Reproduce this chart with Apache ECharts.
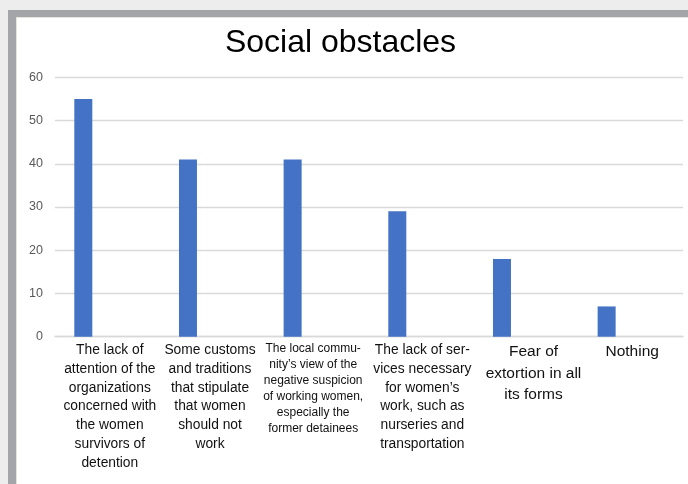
<!DOCTYPE html>
<html>
<head>
<meta charset="utf-8">
<script src="https://cdn.jsdelivr.net/npm/echarts@6/dist/echarts.min.js"></script>
<style>
  html, body { margin: 0; padding: 0; width: 688px; height: 484px; overflow: hidden; background: #ededed; }
  #frame { position: absolute; left: 8px; top: 10px; right: 0; bottom: 0; background: #ffffff;
           border-left: 8px solid #a4a5a8; border-top: 7px solid #a4a5a8; box-shadow: inset 1px 1px 0 #e4e4df; }
  #chart { position: absolute; left: 0; top: 0; width: 688px; height: 484px; }
</style>
</head>
<body>
<div id="frame"></div>
<div id="chart"></div>
<script>
const titleText = "Social obstacles";
const categories = [
  "The lack of\nattention of the\norganizations\nconcerned with\nthe women\nsurvivors of\ndetention",
  "Some customs\nand traditions\nthat stipulate\nthat women\nshould not\nwork",
  "The local commu-\nnity\u2019s view of the\nnegative suspicion\nof working women,\nespecially the\nformer detainees",
  "The lack of ser-\nvices necessary\nfor women\u2019s\nwork, such as\nnurseries and\ntransportation",
  "Fear of\nextortion in all\nits forms",
  "Nothing"
];
const obstacleValues = [55, 41, 41, 29, 18, 7];
const emptySeriesValues = [null, null, null, null, null, null];
const yTickLabels = [0, 10, 20, 30, 40, 50, 60];

const labelStyleKeys = ['m1', 'm2', 's3', 'm4', 'l5', 'l6'];

const fontS = { fontFamily: 'Liberation Sans', fontSize: 12, lineHeight: 16, color: '#111111', align: 'center' };
const fontM = { fontFamily: 'Liberation Sans', fontSize: 13.8, lineHeight: 18.8, color: '#111111', align: 'center' };
const fontL = { fontFamily: 'Liberation Sans', fontSize: 15.5, lineHeight: 21.7, color: '#111111', align: 'center' };

const chart = echarts.init(document.getElementById('chart'), null, { renderer: 'canvas' });
chart.setOption({
  backgroundColor: 'transparent',
  animation: false,
  title: {
    text: titleText,
    left: 335.5,
    textAlign: 'center',
    top: 22,
    textStyle: { fontFamily: 'Liberation Sans', fontSize: 32, fontWeight: 'normal', color: '#000000' }
  },
  grid: { left: 55, right: 5, top: 77.3, bottom: 147.3, containLabel: false },
  xAxis: {
    type: 'category',
    data: categories,
    axisLine: { show: true, lineStyle: { color: '#d9d9d9', width: 1.3 } },
    axisTick: { show: false },
    splitLine: { show: false },
    axisLabel: {
      interval: 0,
      margin: 4,
      align: 'center',
      verticalAlign: 'top',
      formatter: function (value, index) {
        return '{' + labelStyleKeys[index] + '|' + value + '}';
      },
      rich: {
        m1: Object.assign({}, fontM, { padding: [0, 0, 0, 5] }),
        m2: Object.assign({}, fontM, { padding: [0, 4, 0, 0] }),
        s3: Object.assign({}, fontS, { padding: [0, 7, 0, 0] }),
        m4: Object.assign({}, fontM, { padding: [0, 0, 0, 2] }),
        l5: Object.assign({}, fontL, { padding: [0, 0, 0, 15] }),
        l6: Object.assign({}, fontL, { padding: [0, 0, 0, 3] })
      }
    }
  },
  yAxis: {
    type: 'value',
    min: yTickLabels[0],
    max: yTickLabels[yTickLabels.length - 1],
    interval: yTickLabels[1] - yTickLabels[0],
    axisLine: { show: false },
    axisTick: { show: false },
    splitLine: { show: true, lineStyle: { color: '#d9d9d9', width: 1.3 } },
    axisLabel: { margin: 12, fontFamily: 'Liberation Sans', fontSize: 12.5, color: '#595959' }
  },
  series: [
    {
      name: 'Series 1',
      type: 'bar',
      data: obstacleValues,
      barWidth: 18,
      barGap: '167%',
      itemStyle: { color: '#4472c4' }
    },
    {
      name: 'Series 2',
      type: 'bar',
      data: emptySeriesValues,
      barWidth: 18,
      barGap: '167%',
      itemStyle: { color: '#ed7d31' }
    }
  ]
});
</script>
</body>
</html>
